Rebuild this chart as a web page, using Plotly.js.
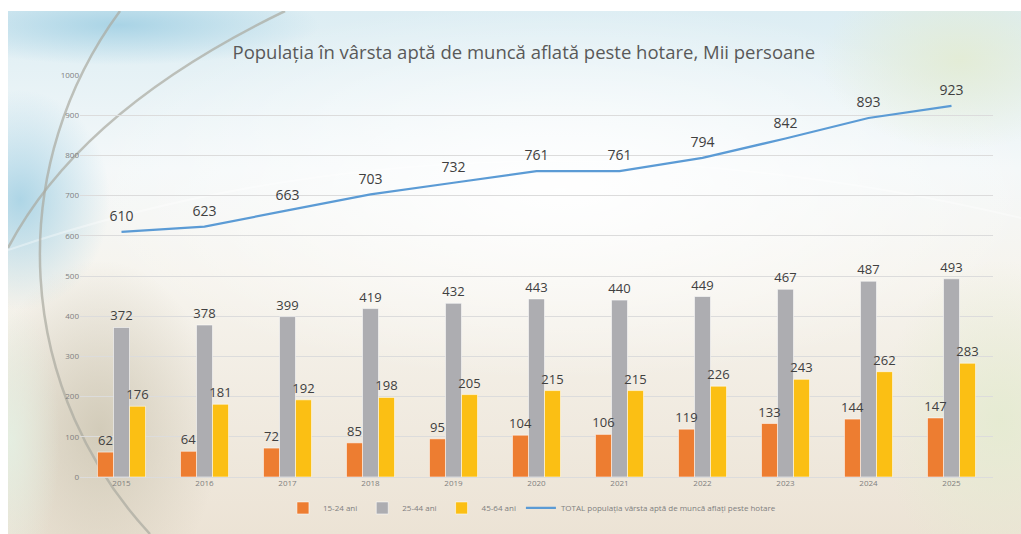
<!DOCTYPE html>
<html>
<head>
<meta charset="utf-8">
<script src="https://cdn.plot.ly/plotly-3.0.1.min.js"></script>
<style>
html,body{margin:0;padding:0;background:#fff;}
#bg{position:absolute;left:8px;top:11px;width:1013px;height:523px;}
#chart{position:absolute;left:0;top:0;width:1021px;height:534px;}
</style>
</head>
<body>
<div id="bg"></div>
<div id="chart"></div>
<script>
const years = ['2015','2016','2017','2018','2019','2020','2021','2022','2023','2024','2025'];
const age15_24 = [62,64,72,85,95,104,106,119,133,144,147];
const age25_44 = [372,378,399,419,432,443,440,449,467,487,493];
const age45_64 = [176,181,192,198,205,215,215,226,243,262,283];
const total = [610,623,663,703,732,761,761,794,842,893,923];
const seriesNames = ['15-24 ani','25-44 ani','45-64 ani','TOTAL populația vârsta aptă de muncă aflați peste hotare'];
const chartTitle = 'Populația în vârsta aptă de muncă aflată peste hotare, Mii persoane';

// decorative background
const svg = `<svg xmlns="http://www.w3.org/2000/svg" width="1013" height="523" viewBox="8 11 1013 523" preserveAspectRatio="none">
<defs>
<linearGradient id="g" x1="0" y1="0" x2="0" y2="1">
<stop offset="0" stop-color="#dcedf3"/>
<stop offset="0.3" stop-color="#f4f8f9"/>
<stop offset="0.5" stop-color="#f6f4ee"/>
<stop offset="1" stop-color="#ece3d5"/>
</linearGradient>
<radialGradient id="w" cx="0.5" cy="0.5" r="0.5">
<stop offset="0" stop-color="#ffffff" stop-opacity="0.95"/>
<stop offset="1" stop-color="#ffffff" stop-opacity="0"/>
</radialGradient>
<radialGradient id="b" cx="0.5" cy="0.5" r="0.5">
<stop offset="0" stop-color="#9ccde2" stop-opacity="0.8"/>
<stop offset="1" stop-color="#9ccde2" stop-opacity="0"/>
</radialGradient>
<radialGradient id="d" cx="0.5" cy="0.5" r="0.5">
<stop offset="0" stop-color="#cbc4b0" stop-opacity="0.8"/>
<stop offset="1" stop-color="#cbc4b0" stop-opacity="0"/>
</radialGradient>
<radialGradient id="gr" cx="0.5" cy="0.5" r="0.5">
<stop offset="0" stop-color="#e3ebcf" stop-opacity="0.8"/>
<stop offset="1" stop-color="#e3ebcf" stop-opacity="0"/>
</radialGradient>
<radialGradient id="gl" cx="0.5" cy="0.5" r="0.5">
<stop offset="0" stop-color="#e4efe2" stop-opacity="0.9"/>
<stop offset="1" stop-color="#e4efe2" stop-opacity="0"/>
</radialGradient>
</defs>
<rect x="8" y="11" width="1013" height="523" fill="url(#g)"/>
<ellipse cx="560" cy="190" rx="480" ry="190" fill="url(#w)"/>
<ellipse cx="20" cy="200" rx="90" ry="110" fill="url(#b)"/>
<ellipse cx="120" cy="25" rx="200" ry="40" fill="url(#b)"/>
<ellipse cx="960" cy="60" rx="140" ry="90" fill="url(#gr)"/>
<ellipse cx="1000" cy="420" rx="120" ry="160" fill="url(#gr)"/>
<ellipse cx="100" cy="430" rx="120" ry="170" fill="url(#d)"/>
<ellipse cx="10" cy="440" rx="50" ry="140" fill="url(#gl)"/>
<path d="M8,250 Q480,90 1021,218" fill="none" stroke="#ffffff" stroke-opacity="0.35" stroke-width="2"/>
<path d="M120,11 A410,410 0 0,0 150,534" fill="none" stroke="#a9a9a0" stroke-opacity="0.7" stroke-width="2.5"/>
<path d="M285,11 Q80,110 8,248" fill="none" stroke="#a9a9a0" stroke-opacity="0.7" stroke-width="2.5"/>
</svg>`;
document.getElementById('bg').style.backgroundImage = 'url("data:image/svg+xml;charset=utf-8,' + encodeURIComponent(svg) + '")';
document.getElementById('bg').style.backgroundSize = '100% 100%';

const labelFont = {family:'Open Sans, sans-serif', size:13, color:'#404040'};
const barLine = {color:'rgba(255,255,255,0.55)', width:1};
const BW = 0.193;

function barTrace(vals, name, color, offset, rank) {
  return {type:'bar', x:years, y:vals, name:name, width:BW, offset:offset, legendrank:rank,
    marker:{color:color, line:barLine},
    text:vals.map(String), textposition:'outside', constraintext:'none', textfont:labelFont, cliponaxis:false};
}

// drawn gray first so neighbouring labels sit on top of it
const traces = [
  barTrace(age25_44, seriesNames[1], '#adadb1', -BW/2, 2),
  barTrace(age45_64, seriesNames[2], '#fbbf14', BW/2, 3),
  barTrace(age15_24, seriesNames[0], '#ed7d31', -1.5*BW, 1),
  {type:'scatter', mode:'lines+markers+text', x:years, y:total, name:seriesNames[3], legendrank:4,
   line:{color:'#5b9bd5', width:2.25}, marker:{size:10, color:'rgba(0,0,0,0)', line:{width:0}},
   text:total.map(String), textposition:'top center',
   textfont:{family:'Open Sans, sans-serif', size:14, color:'#404040'}, cliponaxis:false}
];

const layout = {
  width:1021, height:534,
  paper_bgcolor:'rgba(0,0,0,0)', plot_bgcolor:'rgba(0,0,0,0)',
  margin:{l:80, r:28, t:75, b:57},
  title:{text:chartTitle, x:0.513, xanchor:'center', y:0.902, yanchor:'middle',
         font:{family:'Open Sans, sans-serif', size:18.5, color:'#595959'}},
  barmode:'overlay',
  showlegend:true,
  legend:{orientation:'h', x:0.495, xanchor:'center', y:-0.077, yanchor:'middle',
          itemwidth:30, traceorder:'normal',
          font:{family:'Open Sans, sans-serif', size:8, color:'#7f7f7f'}, bgcolor:'rgba(0,0,0,0)'},
  xaxis:{type:'category', range:[-0.5,10.5], showgrid:false, zeroline:false, showline:false,
         ticks:'', tickfont:{family:'Open Sans, sans-serif', size:8, color:'#7f7f7f'}, fixedrange:true},
  yaxis:{range:[0,1000], dtick:100, showgrid:true, gridcolor:'#dcdcdc', gridwidth:1,
         zeroline:true, zerolinecolor:'#dcdcdc', showline:false, ticks:'', ticklen:0,
         tickfont:{family:'Open Sans, sans-serif', size:8, color:'#7f7f7f'}, fixedrange:true}
};

Plotly.newPlot('chart', traces, layout, {displayModeBar:false, staticPlot:true});
</script>
</body>
</html>
